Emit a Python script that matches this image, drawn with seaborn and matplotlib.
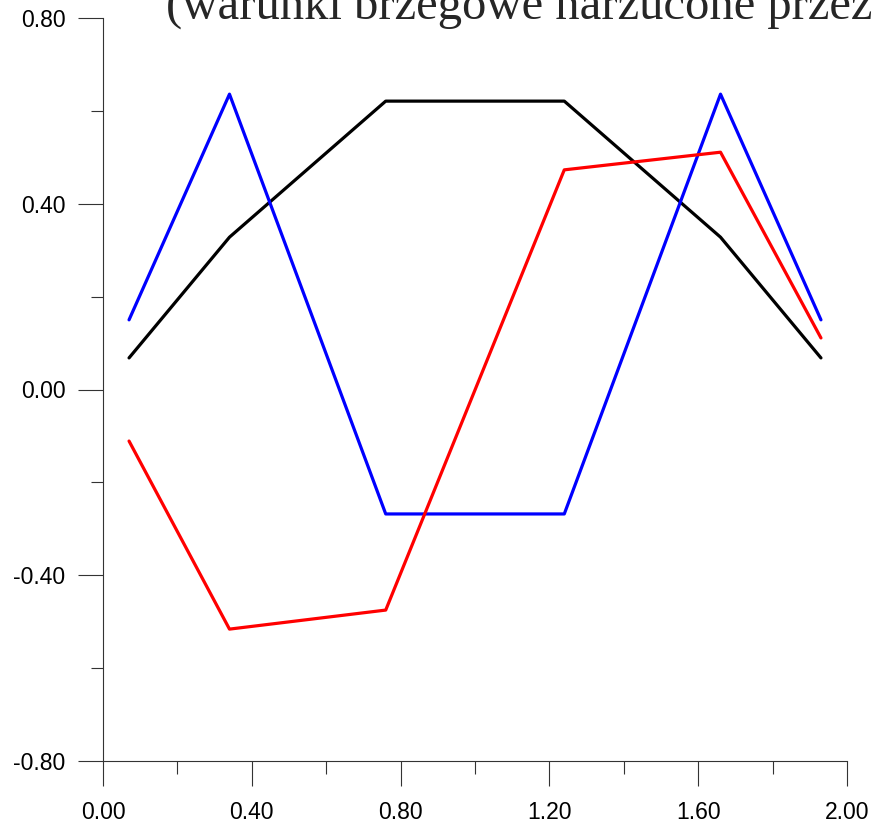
import matplotlib
matplotlib.use("Agg")
import matplotlib.pyplot as plt
import seaborn as sns
import pandas as pd
from matplotlib.ticker import MultipleLocator

# === Data ===
x_pts = [0.07, 0.34, 0.76, 1.24, 1.66, 1.93]
black_vals = [0.068, 0.328, 0.621, 0.621, 0.328, 0.068]
blue_vals = [0.150, 0.636, -0.268, -0.268, 0.636, 0.150]
red_vals = [-0.111, -0.516, -0.475, 0.473, 0.511, 0.111]
series_names = ["black", "blue", "red"]
series_colors = {"black": "#000000", "blue": "#0000FF", "red": "#FF0000"}
title_text = "(warunki brzegowe narzucone przez"

df = pd.DataFrame({
    "x": x_pts * 3,
    "y": black_vals + blue_vals + red_vals,
    "series": [s for s in series_names for _ in x_pts],
})

sns.set_style("ticks")
plt.rcParams["font.family"] = ["Liberation Sans", "DejaVu Sans"]

fig = plt.figure(figsize=(8.72, 8.23), dpi=100)
ax = fig.add_axes([103 / 872, 1 - 761 / 823, 744 / 872, 743 / 823])

sns.lineplot(data=df, x="x", y="y", hue="series", palette=series_colors,
             linewidth=2.3, legend=False, sort=False, ax=ax)

ax.set_xlim(0, 2.0)
ax.set_ylim(-0.8, 0.8)
ax.xaxis.set_major_locator(MultipleLocator(0.4))
ax.xaxis.set_minor_locator(MultipleLocator(0.2))
ax.yaxis.set_major_locator(MultipleLocator(0.4))
ax.yaxis.set_minor_locator(MultipleLocator(0.2))
ax.xaxis.set_major_formatter(lambda v, p: f"{v:.2f}")
ax.yaxis.set_major_formatter(lambda v, p: f"{v:.2f}")

for s in ["top", "right"]:
    ax.spines[s].set_visible(False)
for s in ["left", "bottom"]:
    ax.spines[s].set_color("#333333")
    ax.spines[s].set_linewidth(0.8)

ax.tick_params(which="both", bottom=True, left=True, top=False, right=False)
ax.tick_params(which="major", direction="out", length=18, width=0.8,
               color="#333333", labelsize=16.5, pad=9, labelcolor="black")
ax.tick_params(which="minor", direction="out", length=9, width=0.8,
               color="#333333")
ax.tick_params(axis="x", which="major", pad=11)
ax.set_xlabel("")
ax.set_ylabel("")

# title sits partly above the top edge, as in the reference
fig.text(166 / 872, 1 - 19 / 823, title_text, family=["Liberation Serif", "DejaVu Serif"],
         fontsize=35, ha="left", va="baseline")

fig.savefig("out.png", dpi=100)
